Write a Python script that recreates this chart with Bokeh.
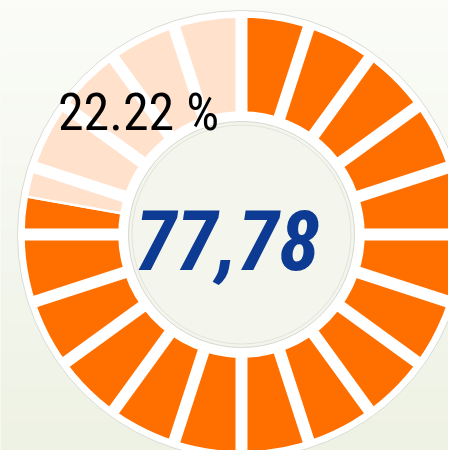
import numpy as np
from bokeh.plotting import figure
from bokeh.models import Range1d
from bokeh.core.properties import value
from bokeh.embed import file_html
from bokeh.resources import INLINE

# ---- data ----
categories = ["Achieved", "Remaining"]
percents = [77.78, 22.22]
series_colors = ["#FF6F00", "#FFE1CC"]
n_segments = 20
center_label = "77,78"
remaining_label = "22.22 %"

# ---- geometry (reference pixel frame, y measured upward from image bottom) ----
W, H = 456, 458
cx, cy = 241, H - 234
r_in, r_out = 122, 218

p = figure(width=448, height=450, output_backend="svg", toolbar_location=None,
           x_range=Range1d(0, 448), y_range=Range1d(8, H), min_border=0)
p.axis.visible = False
p.grid.visible = False
p.outline_line_color = None
p.background_fill_color = "#f7f8f1"
p.border_fill_color = "#f7f8f1"

# background gradient
top = np.array([251, 252, 248]); bot = np.array([238, 242, 228])
ny = 64
t = np.linspace(0, 1, ny)[:, None]
rgb = (bot * (1 - t) + top * t).astype(np.uint32)
img = np.zeros((ny, 2), dtype=np.uint32)
view = img.view(dtype=np.uint8).reshape((ny, 2, 4))
view[:, :, 0] = rgb[:, 0:1]
view[:, :, 1] = rgb[:, 1:2]
view[:, :, 2] = rgb[:, 2:3]
view[:, :, 3] = 255
p.image_rgba(image=[img], x=0, y=0, dw=W, dh=H)

# white plate
p.circle(x=cx, y=cy, radius=224, fill_color="white", line_color="#d9dbd3", line_width=1)

# wedges (clockwise from top)
start = np.pi / 2
angles = []
acc = 0.0
for v in percents:
    a0 = start - 2 * np.pi * (acc + v) / 100.0
    a1 = start - 2 * np.pi * acc / 100.0
    angles.append((a0, a1))
    acc += v
for (a0, a1), col in zip(angles, series_colors):
    p.annular_wedge(x=cx, y=cy, inner_radius=r_in, outer_radius=r_out,
                    start_angle=a0, end_angle=a1, fill_color=col,
                    line_color="white", line_width=2.5)

# segment gaps
gap_ang = start - np.arange(n_segments) * 2 * np.pi / n_segments
p.segment(x0=cx + 100 * np.cos(gap_ang), y0=cy + 100 * np.sin(gap_ang),
          x1=cx + 223 * np.cos(gap_ang), y1=cy + 223 * np.sin(gap_ang),
          line_color="white", line_width=12)

# inner disc
p.circle(x=cx, y=cy, radius=113, fill_color="#f4f6ed", line_color="#d6d8cf", line_width=1)
p.circle(x=cx, y=cy, radius=109.5, fill_color=None, line_color="#e2e4dc", line_width=1)

# labels
p.text(x=[227], y=[H - 239], text=[center_label], text_align="center",
       text_baseline="middle", text_color="#0D3B94",
       text_font=value("Roboto Condensed"),
       text_font_style="bold italic", text_font_size="84px")
p.text(x=[138], y=[H - 112], text=[remaining_label], text_align="center",
       text_baseline="middle", text_color="black",
       text_font=value("Roboto Condensed"),
       text_font_size="52px")

open("out.html", "w").write(file_html(p, INLINE))
